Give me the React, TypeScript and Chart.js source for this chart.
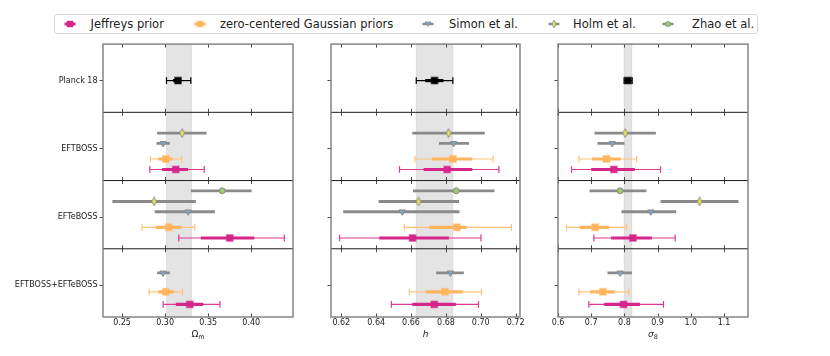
import React, { useEffect, useRef } from 'react';
import { Chart, registerables } from 'chart.js';
Chart.register(...registerables);

const FONT = "'DejaVu Sans', sans-serif";

const ROW_LABELS = ['Planck 18', 'EFTBOSS', 'EFTeBOSS', 'EFTBOSS+EFTeBOSS'];
const ROW_TICK = 0.535;

// position of each series inside its row (fraction of the row)
const POS_PLANCK = [0.535, null, null, null];
const POS_JEFF = [null, 0.838, 0.842, 0.815];
const POS_GAUSS = [null, 0.684, 0.686, 0.631];
const POS_SIMON = [null, 0.455, 0.457, 0.353];
const POS_HOLM = [null, 0.305, 0.307, null];
const POS_ZHAO = [null, null, 0.15, null];

// full entries: [centre, lo95, hi95, lo68, hi68]; simple entries: [centre, lo, hi]
const OM_PLANCK = [[0.315, 0.3016, 0.3299, 0.3093, 0.3191], null, null, null];
const OM_JEFF = [null, [0.3124, 0.2822, 0.3454, 0.2965, 0.3267], [0.3752, 0.3159, 0.4384, 0.3415, 0.4035], [0.3287, 0.2977, 0.3636, 0.3124, 0.3442]];
const OM_GAUSS = [null, [0.3008, 0.283, 0.3191, 0.2919, 0.3086], [0.3043, 0.2733, 0.3345, 0.2892, 0.3191], [0.3008, 0.2814, 0.3202, 0.2919, 0.3101]];
const OM_SIMON = [null, [0.2977, 0.29, 0.3055], [0.3267, 0.288, 0.3578], [0.2977, 0.2907, 0.3055]];
const OM_HOLM = [null, [0.3198, 0.2907, 0.3481], [0.2872, 0.2388, 0.3357], null];
const OM_ZHAO = [null, null, [0.3663, 0.3299, 0.4005], null];
const OM_BAND = [0.3016, 0.3307];
const OM_TICKS = [0.25, 0.3, 0.35, 0.4];

const H_PLANCK = [[0.6735, 0.663, 0.684, 0.6681, 0.6786], null, null, null];
const H_JEFF = [null, [0.6807, 0.6534, 0.7104, 0.6672, 0.6951], [0.6609, 0.619, 0.7001, 0.6418, 0.6817], [0.6733, 0.6487, 0.6987, 0.6607, 0.6857]];
const H_GAUSS = [null, [0.684, 0.6622, 0.7071, 0.672, 0.6951], [0.6863, 0.6561, 0.7176, 0.6704, 0.6919], [0.6794, 0.659, 0.7004, 0.6687, 0.6897]];
const H_SIMON = [null, [0.6844, 0.676, 0.6932], [0.655, 0.6211, 0.6878], [0.6826, 0.6744, 0.6903]];
const H_HOLM = [null, [0.6815, 0.6607, 0.7023], [0.6643, 0.6414, 0.6876], null];
const H_ZHAO = [null, null, [0.6859, 0.6611, 0.7079], null];
const H_BAND = [0.663, 0.684];
const H_TICKS = [0.62, 0.64, 0.66, 0.68, 0.7, 0.72];

const S8_PLANCK = [[0.811, 0.799, 0.8235, 0.803, 0.819], null, null, null];
const S8_JEFF = [null, [0.7683, 0.6407, 0.9088, 0.7, 0.8315], [0.8256, 0.708, 0.953, 0.76, 0.8827], [0.7974, 0.693, 0.9177, 0.739, 0.8467]];
const S8_GAUSS = [null, [0.7461, 0.663, 0.8365, 0.703, 0.7894], [0.712, 0.6256, 0.8063, 0.6648, 0.7542], [0.7352, 0.663, 0.8135, 0.697, 0.7703]];
const S8_SIMON = [null, [0.7633, 0.719, 0.8004], [0.8797, 0.7913, 0.956], [0.7873, 0.749, 0.8226]];
const S8_HOLM = [null, [0.8024, 0.71, 0.8948], [1.0263, 0.9088, 1.1437], null];
const S8_ZHAO = [null, null, [0.7873, 0.695, 0.8666], null];
const S8_BAND = [0.799, 0.8226];
const S8_TICKS = [0.6, 0.7, 0.8, 0.9, 1.0, 1.1];

const C_JEFF = '#d6268a';
const C_JEFF_THIN = '#dc3a95';
const C_GAUSS = '#ffb55e';
const C_GAUSS_THIN = '#ffc27c';
const C_GRAY = '#8a8a8a';
const C_SIMON = '#7fa6cc';
const C_HOLM = '#e4e45a';
const C_ZHAO = '#9ccd68';

const CANVAS_TOP = 38;
const CANVAS_H = 303;
const PAD_TOP = 5;
const XAXIS_H = 24;

const PANELS = [
  { min: 0.2279, max: 0.4485, ticks: OM_TICKS, dec: 2, band: OM_BAND, planck: OM_PLANCK, jeff: OM_JEFF, gauss: OM_GAUSS, simon: OM_SIMON, holm: OM_HOLM, zhao: OM_ZHAO, title: { main: 'Ω', sub: 'm', italic: false }, left: 0, yW: 103, w: 190, cw: 305, labels: true },
  { min: 0.6141, max: 0.7225, ticks: H_TICKS, dec: 2, band: H_BAND, planck: H_PLANCK, jeff: H_JEFF, gauss: H_GAUSS, simon: H_SIMON, holm: H_HOLM, zhao: H_ZHAO, title: { main: 'h', sub: '', italic: true }, left: 311, yW: 20, w: 189, cw: 221, labels: false },
  { min: 0.6, max: 1.1723, ticks: S8_TICKS, dec: 1, band: S8_BAND, planck: S8_PLANCK, jeff: S8_JEFF, gauss: S8_GAUSS, simon: S8_SIMON, holm: S8_HOLM, zhao: S8_ZHAO, title: { main: 'σ', sub: '8', italic: true }, left: 538, yW: 20, w: 190, cw: 222, labels: false },
];

function segs(rows: any[], pos: any[], iLo: number, iHi: number) {
  const out: any[] = [];
  rows.forEach((v, r) => {
    if (!v || pos[r] == null) return;
    const y = r + pos[r];
    out.push({ x: v[iLo], y }, { x: v[iHi], y }, { x: null, y: null });
  });
  return out;
}
function pts(rows: any[], pos: any[], idx: number[]) {
  const out: any[] = [];
  rows.forEach((v, r) => {
    if (!v || pos[r] == null) return;
    idx.forEach((i) => out.push({ x: v[i], y: r + pos[r] }));
  });
  return out;
}

function makeDiamond() {
  const c = document.createElement('canvas');
  c.width = 6;
  c.height = 10;
  const g = c.getContext('2d')!;
  g.beginPath();
  g.moveTo(3, 0.6);
  g.lineTo(5.4, 5);
  g.lineTo(3, 9.4);
  g.lineTo(0.6, 5);
  g.closePath();
  g.fillStyle = C_HOLM;
  g.fill();
  g.strokeStyle = '#8a8a8a';
  g.lineWidth = 0.9;
  g.stroke();
  return c;
}

function lineDs(data: any[], color: string, width: number, order: number) {
  return { type: 'line', data, borderColor: color, borderWidth: width, pointRadius: 0, spanGaps: false, fill: false, tension: 0, order };
}
function pointDs(data: any[], opts: any, order: number) {
  return { type: 'line', data, showLine: false, order, ...opts };
}

function fullSeries(rows: any[], pos: any[], color: string, thin: string, edge: string) {
  return [
    lineDs(segs(rows, pos, 1, 2), thin, 1.2, 4),
    lineDs(segs(rows, pos, 3, 4), color, 3.2, 3),
    pointDs(pts(rows, pos, [1, 2]), { pointStyle: 'line', pointRotation: 90, pointRadius: 3.4, pointBorderWidth: 1.2, pointBorderColor: thin }, 2),
    pointDs(pts(rows, pos, [0]), { pointStyle: 'rect', pointRadius: 4.6, pointBackgroundColor: color, pointBorderColor: edge, pointBorderWidth: 1.5 }, 1),
  ];
}
function simpleSeries(rows: any[], pos: any[], marker: any) {
  return [
    lineDs(segs(rows, pos, 1, 2), C_GRAY, 2.8, 3),
    pointDs(pts(rows, pos, [0]), marker, 1),
  ];
}

function buildConfig(p: any) {
  const diamond = makeDiamond();
  const datasets = [
    ...fullSeries(p.planck, POS_PLANCK, '#000000', '#000000', 'rgba(0,0,0,0.45)'),
    ...fullSeries(p.jeff, POS_JEFF, C_JEFF, C_JEFF_THIN, 'rgba(214,38,138,0.45)'),
    ...fullSeries(p.gauss, POS_GAUSS, C_GAUSS, C_GAUSS_THIN, 'rgba(255,181,94,0.5)'),
    ...simpleSeries(p.simon, POS_SIMON, { pointStyle: 'triangle', pointRotation: 180, pointRadius: 3.6, pointBackgroundColor: C_SIMON, pointBorderColor: '#8a8a8a', pointBorderWidth: 1 }),
    ...simpleSeries(p.holm, POS_HOLM, { pointStyle: diamond, pointRadius: 4 }),
    ...simpleSeries(p.zhao, POS_ZHAO, { pointStyle: 'circle', pointRadius: 3, pointBackgroundColor: C_ZHAO, pointBorderColor: '#8a8a8a', pointBorderWidth: 1 }),
  ];

  const deco = {
    id: 'deco',
    beforeDatasetsDraw(chart: any) {
      const { ctx, chartArea: a, scales } = chart;
      const x = scales.x;
      const y = scales.y;
      ctx.save();
      const x0 = x.getPixelForValue(p.band[0]);
      const x1 = x.getPixelForValue(p.band[1]);
      ctx.fillStyle = 'rgba(0,0,0,0.105)';
      ctx.fillRect(x0, a.top, x1 - x0, a.bottom - a.top);
      ctx.strokeStyle = 'rgba(0,0,0,0.08)';
      ctx.lineWidth = 1;
      [x0, x1].forEach((xx) => {
        ctx.beginPath();
        ctx.moveTo(xx, a.top);
        ctx.lineTo(xx, a.bottom);
        ctx.stroke();
      });
      // row dividers
      ctx.strokeStyle = '#1a1a1a';
      ctx.lineWidth = 1;
      for (let r = 1; r < ROW_LABELS.length; r++) {
        const yy = y.getPixelForValue(r);
        ctx.beginPath();
        ctx.moveTo(a.left, yy);
        ctx.lineTo(a.right, yy);
        ctx.stroke();
      }
      // inner x tick marks on every row edge
      ctx.strokeStyle = '#333';
      ctx.lineWidth = 0.9;
      for (let b = 0; b <= ROW_LABELS.length; b++) {
        const yy = y.getPixelForValue(b);
        p.ticks.forEach((t: number) => {
          const xx = Math.round(x.getPixelForValue(t)) + 0.5;
          ctx.beginPath();
          if (b > 0) {
            ctx.moveTo(xx, yy - 3.5);
            ctx.lineTo(xx, yy);
          }
          if (b < ROW_LABELS.length) {
            ctx.moveTo(xx, yy);
            ctx.lineTo(xx, yy + 3.5);
          }
          ctx.stroke();
        });
      }
      ctx.restore();
    },
    afterDraw(chart: any) {
      const { ctx, chartArea: a } = chart;
      ctx.save();
      ctx.strokeStyle = '#7d7d7d';
      ctx.lineWidth = 1.4;
      ctx.strokeRect(a.left, a.top, a.right - a.left, a.bottom - a.top);
      // axis title with subscript
      const t = p.title;
      const mainFont = `${t.italic ? 'italic ' : ''}9px ${FONT}`;
      const subFont = `6.5px ${FONT}`;
      ctx.font = mainFont;
      const wm = ctx.measureText(t.main).width;
      ctx.font = subFont;
      const ws = t.sub ? ctx.measureText(t.sub).width : 0;
      const cx = (a.left + a.right) / 2;
      const startX = cx - (wm + ws) / 2;
      const cy = a.bottom + 18;
      ctx.fillStyle = '#222';
      ctx.textBaseline = 'middle';
      ctx.textAlign = 'left';
      ctx.font = mainFont;
      ctx.fillText(t.main, startX, cy);
      if (t.sub) {
        ctx.font = subFont;
        ctx.fillText(t.sub, startX + wm, cy + 2.5);
      }
      ctx.restore();
    },
  };

  return {
    type: 'line',
    data: { datasets },
    options: {
      animation: false,
      responsive: false,
      maintainAspectRatio: false,
      events: [],
      layout: { padding: { top: PAD_TOP, right: p.cw - p.yW - p.w, left: 0, bottom: 0 } },
      plugins: { legend: { display: false }, tooltip: { enabled: false } },
      scales: {
        x: {
          type: 'linear',
          min: p.min,
          max: p.max,
          afterBuildTicks: (s: any) => {
            s.ticks = p.ticks.map((v: number) => ({ value: v }));
          },
          afterFit: (s: any) => {
            s.height = XAXIS_H;
            s.paddingLeft = 0;
            s.paddingRight = 0;
          },
          grid: { display: false, drawTicks: false },
          border: { display: false },
          ticks: {
            font: { family: FONT, size: 8 },
            color: '#222',
            padding: 1,
            maxRotation: 0,
            autoSkip: false,
            callback: (v: any) => Number(v).toFixed(p.dec),
          },
        },
        y: {
          type: 'linear',
          min: 0,
          max: ROW_LABELS.length,
          reverse: true,
          afterBuildTicks: (s: any) => {
            s.ticks = ROW_LABELS.map((_, i) => ({ value: i + ROW_TICK }));
          },
          afterFit: (s: any) => {
            s.width = p.yW;
            s.paddingTop = 0;
            s.paddingBottom = 0;
          },
          grid: { drawOnChartArea: false, drawTicks: true, tickLength: 3.5, tickColor: '#333', tickWidth: 0.9 },
          border: { display: false },
          ticks: {
            font: { family: FONT, size: 8 },
            color: '#222',
            padding: 2,
            autoSkip: false,
            callback: (_v: any, i: number) => (p.labels ? ROW_LABELS[i] : ''),
          },
        },
      },
    },
    plugins: [deco],
  };
}

function Panel({ p }: { p: any }) {
  const ref = useRef<HTMLCanvasElement | null>(null);
  useEffect(() => {
    const chart = new Chart(ref.current as HTMLCanvasElement, buildConfig(p) as any);
    return () => chart.destroy();
  }, []);
  return (
    <canvas
      ref={ref}
      width={p.cw}
      height={CANVAS_H}
      style={{ position: 'absolute', left: p.left, top: CANVAS_TOP, width: p.cw, height: CANVAS_H }}
    />
  );
}

const LEGEND_ITEMS = [
  { label: 'Jeffreys prior', kind: 'jeff', mx: 70, tx: 90.5 },
  { label: 'zero-centered Gaussian priors', kind: 'gauss', mx: 200, tx: 220 },
  { label: 'Simon et al.', kind: 'simon', mx: 428, tx: 449 },
  { label: 'Holm et al.', kind: 'holm', mx: 554, tx: 573 },
  { label: 'Zhao et al.', kind: 'zhao', mx: 668, tx: 692 },
];

function LegendIcon({ kind }: { kind: string }) {
  if (kind === 'jeff' || kind === 'gauss') {
    const c = kind === 'jeff' ? C_JEFF : C_GAUSS;
    return (
      <svg width={14} height={10}>
        <line x1={1.5} y1={5} x2={12.5} y2={5} stroke={c} strokeWidth={3} />
        <rect x={3.8} y={1.8} width={6.4} height={6.4} fill={c} />
      </svg>
    );
  }
  return (
    <svg width={14} height={10}>
      <line x1={1.5} y1={5} x2={12.5} y2={5} stroke={C_GRAY} strokeWidth={2.4} />
      {kind === 'simon' && <polygon points="4,3 10,3 7,7.5" fill={C_SIMON} stroke="#8a8a8a" strokeWidth={0.8} />}
      {kind === 'holm' && <polygon points="7,1 9,5 7,9 5,5" fill={C_HOLM} stroke="#8a8a8a" strokeWidth={0.8} />}
      {kind === 'zhao' && <circle cx={7} cy={5} r={2.6} fill={C_ZHAO} stroke="#8a8a8a" strokeWidth={0.8} />}
    </svg>
  );
}

function Legend() {
  return (
    <>
      <div
        style={{
          position: 'absolute', left: 54, top: 14, width: 704, height: 20, boxSizing: 'border-box',
          border: '1px solid #d6d6d6', borderRadius: 3, background: '#fff',
        }}
      />
      {LEGEND_ITEMS.map((it) => (
        <React.Fragment key={it.label}>
          <div style={{ position: 'absolute', left: it.mx - 7, top: 19, width: 14, height: 10, lineHeight: 0 }}>
            <LegendIcon kind={it.kind} />
          </div>
          <div
            style={{
              position: 'absolute', left: it.tx, top: 14, height: 20, lineHeight: '20px',
              fontFamily: FONT, fontSize: 11.5, color: '#222', whiteSpace: 'nowrap',
            }}
          >
            {it.label}
          </div>
        </React.Fragment>
      ))}
    </>
  );
}

export default function App() {
  return (
    <div style={{ position: 'absolute', left: 0, top: 0, width: 830, height: 356, background: '#fff', overflow: 'hidden' }}>
      <Legend />
      {PANELS.map((p, i) => (
        <Panel key={i} p={p} />
      ))}
    </div>
  );
}
